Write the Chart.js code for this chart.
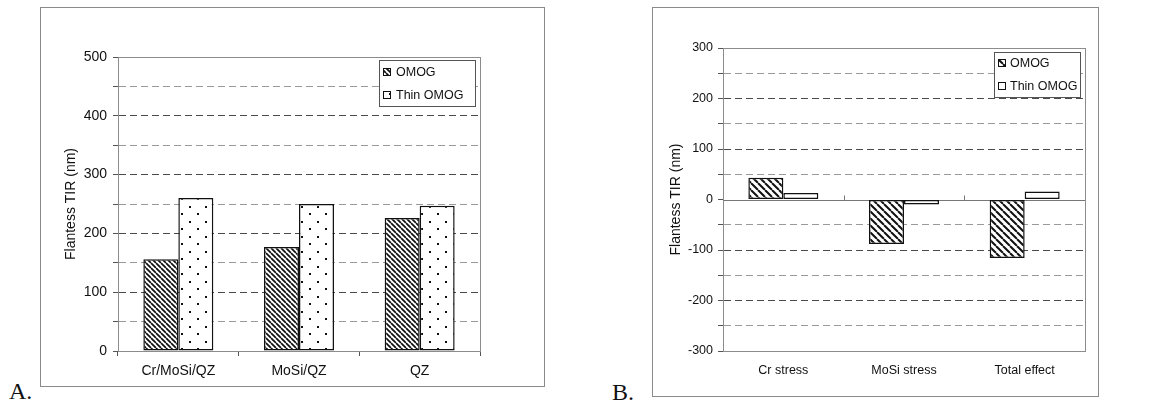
<!DOCTYPE html>
<html>
<head>
<meta charset="utf-8">
<script src="https://cdn.jsdelivr.net/npm/chart.js@4/dist/chart.umd.min.js"></script>
<style>
  body { margin: 0; background: #fff; width: 1156px; height: 407px; position: relative; overflow: hidden; }
  .box { position: absolute; border: 1px solid #8a8a8a; box-sizing: border-box; }
  canvas { position: absolute; }
  .tag { position: absolute; font-family: "Liberation Serif", "Times New Roman", serif; font-size: 24px; line-height: 24px; color: #111; }
</style>
</head>
<body>
<div class="box" style="left:40px; top:7px; width:505px; height:380px;"></div>
<canvas id="chartA" width="502" height="377" style="left:41px; top:8px;"></canvas>
<div class="box" style="left:652px; top:7px; width:447px; height:390px;"></div>
<canvas id="chartB" width="444" height="387" style="left:653px; top:8px;"></canvas>
<div class="tag" style="left:9px; top:379px;">A.</div>
<div class="tag" style="left:612px; top:380px;">B.</div>
<script>
// data
const seriesLabels = ['OMOG', 'Thin OMOG'];

const categoriesA = ['Cr/MoSi/QZ', 'MoSi/QZ', 'QZ'];
const omogA = [156, 177, 226];
const thinOmogA = [260, 250, 247];

const categoriesB = ['Cr stress', 'MoSi stress', 'Total effect'];
const omogB = [43, -88, -116];
const thinOmogB = [13, -10, 16];

const FONT = "'Liberation Sans', Arial, sans-serif";
const INK = '#111';

function hatch(step, width) {
    const c = document.createElement('canvas');
    c.width = step; c.height = step;
    const g = c.getContext('2d');
    g.fillStyle = '#fff';
    g.fillRect(0, 0, step, step);
    g.strokeStyle = '#111';
    g.lineWidth = width;
    g.beginPath();
    for (let k = -1; k <= 1; k++) {
        g.moveTo(k * step, 0);
        g.lineTo(k * step + step, step);
    }
    g.stroke();
    return g.createPattern(c, 'repeat');
}

function dots() {
    const c = document.createElement('canvas');
    c.width = 16; c.height = 15;
    const g = c.getContext('2d');
    g.fillStyle = '#fff';
    g.fillRect(0, 0, 16, 15);
    g.fillStyle = '#111';
    g.fillRect(4, 3, 2, 2);
    g.fillRect(12, 10, 2, 2);
    return g.createPattern(c, 'repeat');
}

// plot frame, zero line and the floating legend box
const extras = {
    id: 'extras',
    beforeDatasetsDraw(chart, args, opts) {
        const { ctx, chartArea: a } = chart;
        ctx.save();
        ctx.strokeStyle = '#8c8c8c';
        ctx.lineWidth = 1;
        ctx.strokeRect(a.left + 0.5, a.top + 0.5, a.right - a.left, a.bottom - a.top);
        if (opts.zeroLine) {
            const y = Math.round(chart.scales.y.getPixelForValue(0)) + 0.5;
            const xs = chart.scales.x;
            ctx.strokeStyle = '#777';
            ctx.beginPath();
            ctx.moveTo(a.left, y);
            ctx.lineTo(a.right, y);
            const n = chart.data.labels.length;
            for (let i = 1; i < n; i++) {
                const bx = Math.round((xs.getPixelForValue(i - 1) + xs.getPixelForValue(i)) / 2) + 0.5;
                ctx.moveTo(bx, y);
                ctx.lineTo(bx, y - 5);
            }
            ctx.stroke();
        }
        ctx.restore();
    },
    afterDraw(chart, args, opts) {
        const L = opts.legend;
        if (!L) return;
        const ctx = chart.ctx;
        ctx.save();
        ctx.fillStyle = '#fff';
        ctx.fillRect(L.x, L.y, L.w, L.h);
        ctx.strokeStyle = '#555';
        ctx.lineWidth = 1;
        ctx.strokeRect(L.x + 0.5, L.y + 0.5, L.w, L.h);
        ctx.font = L.size + 'px ' + FONT;
        ctx.textBaseline = 'middle';
        chart.data.datasets.forEach((ds, i) => {
            const cy = L.rows[i];
            ctx.fillStyle = L.fills[i];
            ctx.fillRect(L.sx, cy - 4, 8, 8);
            ctx.strokeStyle = '#111';
            ctx.strokeRect(L.sx + 0.5, cy - 3.5, 7, 7);
            ctx.fillStyle = INK;
            ctx.fillText(ds.label, L.tx, cy + 0.5);
        });
        ctx.restore();
    }
};

function makeChart(id, cfg) {
    const barStyle = {
        borderColor: '#111',
        borderWidth: 1.5,
        borderSkipped: false,
        categoryPercentage: 0.58,
        barPercentage: 1.0
    };
    return new Chart(document.getElementById(id), {
        type: 'bar',
        data: {
            labels: cfg.labels,
            datasets: [
                Object.assign({ label: seriesLabels[0], data: cfg.a, backgroundColor: cfg.fillA }, barStyle),
                Object.assign({ label: seriesLabels[1], data: cfg.b, backgroundColor: cfg.fillB }, barStyle)
            ]
        },
        options: {
            responsive: false,
            animation: false,
            layout: { padding: cfg.padding },
            plugins: {
                legend: { display: false },
                tooltip: { enabled: false },
                extras: { zeroLine: cfg.zeroLine, legend: cfg.legend }
            },
            scales: {
                x: {
                    afterFit: s => { s.height = cfg.xHeight; },
                    ticks: { color: INK, font: { family: FONT, size: cfg.xFont }, padding: cfg.xPad, maxRotation: 0 },
                    grid: { drawOnChartArea: false, drawTicks: cfg.xTicks, tickLength: 5, tickColor: '#555' },
                    border: { color: '#666', width: 1 }
                },
                y: {
                    min: cfg.min,
                    max: cfg.max,
                    afterFit: s => { s.width = cfg.yWidth; },
                    ticks: {
                        stepSize: 50,
                        color: INK,
                        font: { family: FONT, size: cfg.yFont },
                        padding: cfg.yPad,
                        callback: v => (v % 100 === 0 ? v : '')
                    },
                    grid: {
                        color: c => {
                            const v = c.tick ? c.tick.value : 1;
                            if (v === 0) return 'rgba(0,0,0,0)';
                            return v % 100 === 0 ? '#4a4a4a' : '#9a9a9a';
                        },
                        lineWidth: 1,
                        tickLength: 5,
                        tickColor: '#555'
                    },
                    border: { color: '#666', width: 1, dash: [7, 4] },
                    title: {
                        display: true,
                        text: 'Flantess TIR (nm)',
                        color: INK,
                        font: { family: FONT, size: 14 },
                        padding: { top: cfg.titlePad, bottom: 0 }
                    }
                }
            }
        },
        plugins: [extras]
    });
}

const fillA = [hatch(5, 1.7), dots()];
makeChart('chartA', {
    labels: categoriesA, a: omogA, b: thinOmogA,
    fillA: fillA[0], fillB: fillA[1],
    min: 0, max: 500,
    padding: { top: 49, right: 63, left: 0, bottom: 0 },
    xHeight: 34, yWidth: 77,
    xFont: 14, yFont: 14, xPad: 7, yPad: 6, xTicks: true,
    titlePad: 22,
    zeroLine: false,
    legend: { x: 338, y: 52, w: 96, h: 46, sx: 342, tx: 355, size: 12.5, rows: [64, 87], fills: fillA }
});

const fillB = [hatch(7, 2), dots()];
makeChart('chartB', {
    labels: categoriesB, a: omogB, b: thinOmogB,
    fillA: fillB[0], fillB: fillB[1],
    min: -300, max: 300,
    padding: { top: 40, right: 12, left: 0, bottom: 0 },
    xHeight: 44, yWidth: 70,
    xFont: 12.5, yFont: 12.5, xPad: 12, yPad: 5, xTicks: false,
    titlePad: 15,
    zeroLine: true,
    legend: { x: 341, y: 44, w: 86, h: 45, sx: 345, tx: 357, size: 12.5, rows: [55, 78], fills: fillB }
});
</script>
</body>
</html>
